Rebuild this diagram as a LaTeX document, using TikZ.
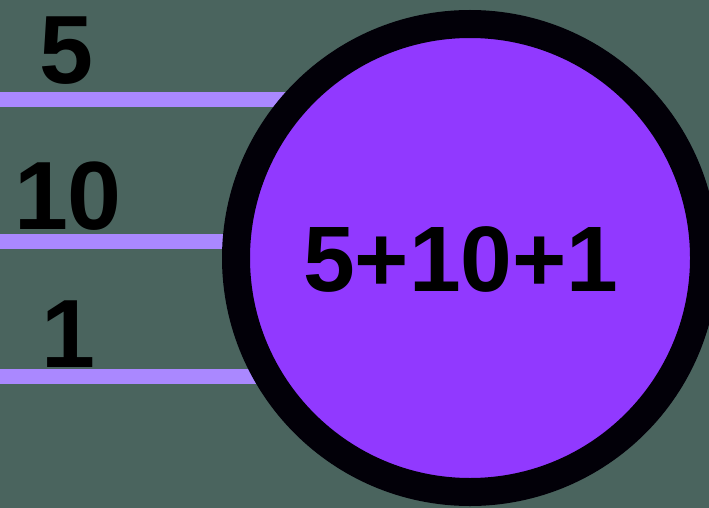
\documentclass[tikz,border=0pt]{standalone}
\usepackage{fontspec}
\setmainfont{Liberation Sans}
\usepackage{tikz}
\usetikzlibrary{positioning,calc}
\definecolor{figbg}{RGB}{74,100,94}
\definecolor{figwire}{RGB}{170,136,255}
\definecolor{figsum}{RGB}{145,57,255}
\definecolor{figrim}{RGB}{2,0,8}
\tikzset{
  wire/.style={draw=figwire, line width=15pt},
  sumcircle/.style={circle, draw=figrim, line width=28pt, fill=figsum, minimum size=468pt, inner sep=0pt},
  numlabel/.style={anchor=base, inner sep=0pt, font=\fontsize{97}{97}\selectfont\bfseries, text=black}
}
\begin{document}
\begin{tikzpicture}[x=1pt,y=-1pt]
  \fill[figbg] (0,0) rectangle (709,508);
  \useasboundingbox (0,0) rectangle (709,508);

  \coordinate (c) at (470,258);
  \coordinate (in1) at (0,100);
  \coordinate (in2) at (0,241.5);
  \coordinate (in3) at (0,376.5);

  \draw[wire] (in1) -- (in1 -| c);
  \draw[wire] (in2) -- (in2 -| c);
  \draw[wire] (in3) -- (in3 -| c);

  \node[numlabel] (five) at (66,84) {5};
  \node[numlabel] (ten) at (68,229) {10};
  \node[numlabel] (one) at (68,367) {1};

  \node[sumcircle] (adder) at (c) {};
  \node[numlabel, font=\fontsize{93}{93}\selectfont\bfseries] (sum) at (461,291) {5+10+1};
\end{tikzpicture}
\end{document}
